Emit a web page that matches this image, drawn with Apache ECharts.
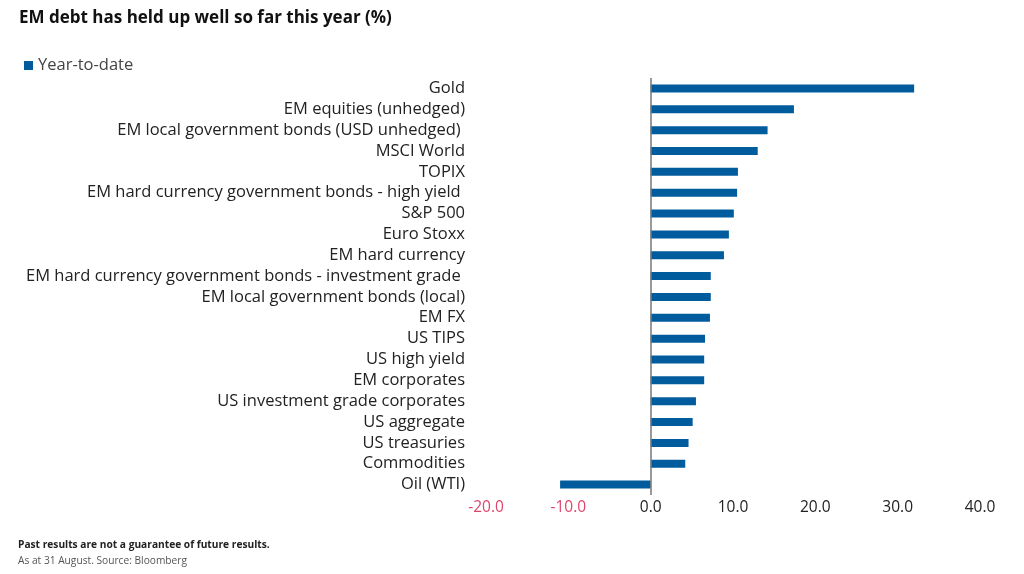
<!DOCTYPE html>
<html><head><meta charset="utf-8">
<script src="https://cdn.jsdelivr.net/npm/echarts@6/dist/echarts.min.js"></script>
<style>html,body{margin:0;padding:0;background:#fff}#c{width:1024px;height:574px}</style>
</head><body><div id="c"></div>
<script>
const categories = ["Gold","EM equities (unhedged)","EM local government bonds (USD unhedged) ","MSCI World","TOPIX","EM hard currency government bonds - high yield ","S&P 500","Euro Stoxx","EM hard currency","EM hard currency government bonds - investment grade ","EM local government bonds (local)","EM FX","US TIPS","US high yield","EM corporates","US investment grade corporates","US aggregate","US treasuries","Commodities","Oil (WTI)"];
const ytd = [32.0,17.4,14.2,13.0,10.6,10.5,10.1,9.5,8.9,7.3,7.3,7.2,6.6,6.5,6.5,5.5,5.1,4.6,4.2,-11.0];
const xTicks = {min:-20, max:40, step:10};
const font = '"Open Sans", "Noto Sans", sans-serif';
const chart = echarts.init(document.getElementById('c'));
chart.setOption({
  animation:false,
  title:{text:"EM debt has held up well so far this year (%)", left:14, top:5,
    textStyle:{fontFamily:font, fontSize:17, fontWeight:'bold', color:'#111'}},
  legend:{data:["Year-to-date"], left:19, top:52, icon:'rect', itemWidth:9, itemHeight:9, itemGap:10,
    textStyle:{fontFamily:font, fontSize:16.5, color:'#444'}},
  grid:{left:486, right:44, top:78, bottom:79},
  xAxis:{type:'value', min:xTicks.min, max:xTicks.max, interval:xTicks.step,
    splitLine:{show:false}, axisLine:{show:false}, axisTick:{show:false},
    axisLabel:{fontFamily:font, fontSize:15.5, margin:5,
      formatter:v=>v.toFixed(1), color:v=>v<0?'#e0456e':'#222'}},
  yAxis:{type:'category', data:categories, inverse:true,
    axisLine:{show:false}, axisTick:{show:false},
    axisLabel:{fontFamily:font, fontSize:16.5, lineHeight:18, color:'#222', margin:21, interval:0, hideOverlap:false}},
  series:[{name:"Year-to-date", type:'bar', data:ytd, barWidth:8,
    itemStyle:{color:'#005c9d'},
    markLine:{silent:true, symbol:'none', label:{show:false},
      lineStyle:{color:'#777', width:1.5, type:'solid'}, data:[{xAxis:0}]}}],
  graphic:[
    {type:'text', left:18, top:540, style:{text:"Past results are not a guarantee of future results.", font:'bold 10.2px '+font, fill:'#222'}},
    {type:'text', left:18, top:556, style:{text:"As at 31 August. Source: Bloomberg", font:'10.2px '+font, fill:'#555'}}
  ]
});
</script></body></html>
